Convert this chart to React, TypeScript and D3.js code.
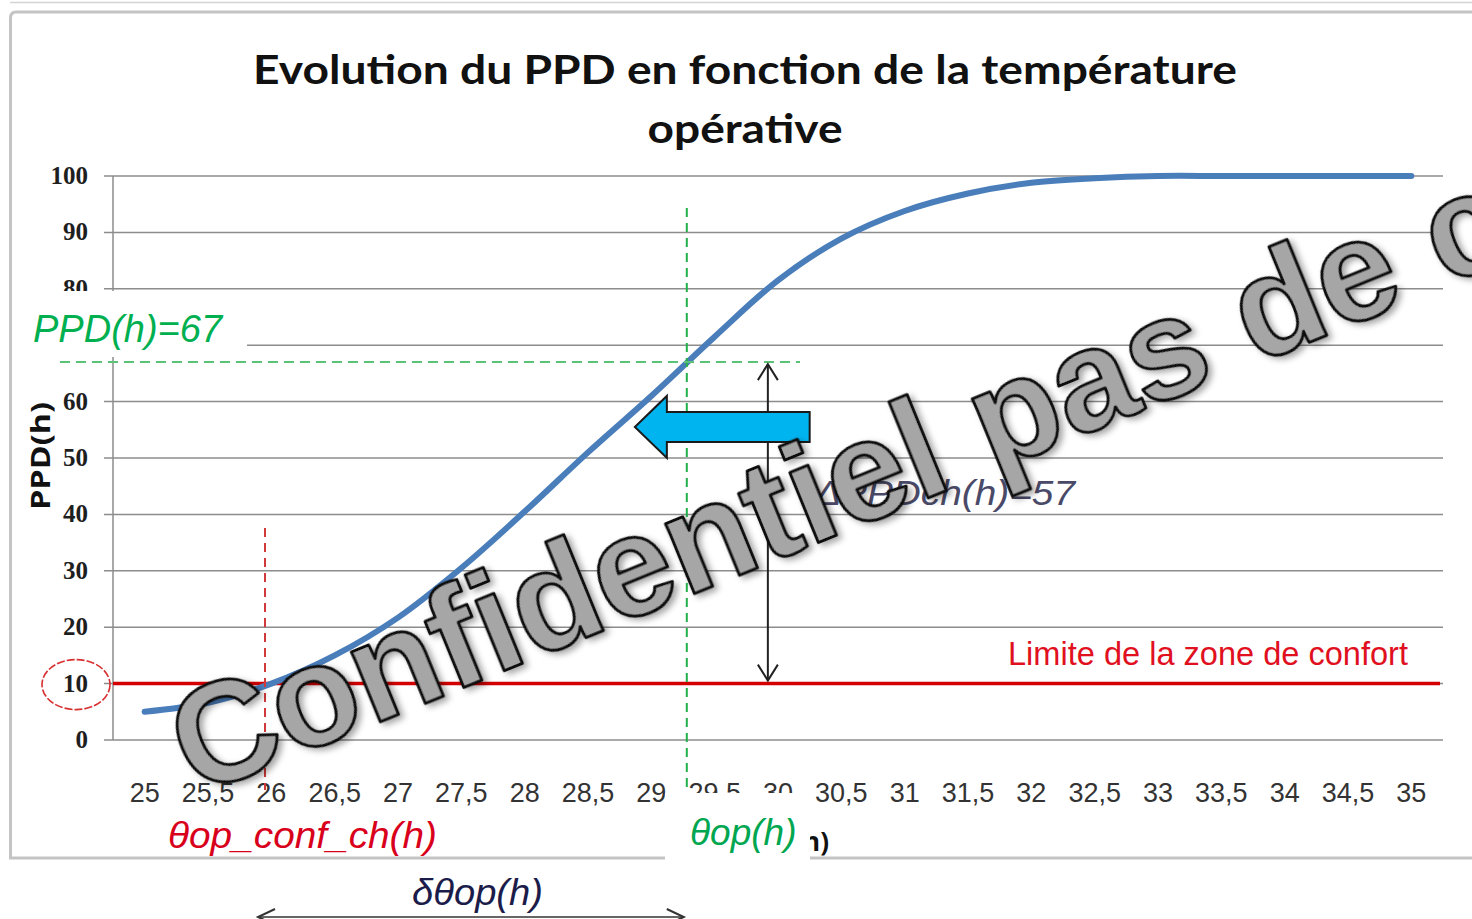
import React from 'react';
import * as d3 from 'd3';

// x categories (température opérative) and PPD values
const temps = ['25', '25,5', '26', '26,5', '27', '27,5', '28', '28,5', '29', '29,5', '30',
  '30,5', '31', '31,5', '32', '32,5', '33', '33,5', '34', '34,5', '35'];
const ppd = [5, 6.6, 10, 15, 21.7, 30.5, 40.5, 51, 61, 71.5, 81.5, 88.9, 93.8, 96.9, 98.8, 99.6, 100, 100, 100, 100, 100];
const yTicks = [0, 10, 20, 30, 40, 50, 60, 70, 80, 90, 100];

// annotations
const comfortLimit = 10;
const ppdH = 67;
const thetaOp = 29.28;
const thetaConf = 25.95;
const deltaArrowTemp = 29.92;
const blueArrow = { tip: 28.87, tail: 30.25, ppd: 55.5 };

const W = 1472;
const H = 919;
const plot = { left: 113, right: 1443, top: 176, bottom: 740 };

const sans = '"Liberation Sans", Arial, sans-serif';

const App = () => {
  const x = d3.scaleBand().domain(temps).range([plot.left, plot.right]).padding(0);
  const xc = (t: string) => (x(t) as number) + x.bandwidth() / 2;
  const tScale = d3.scaleLinear().domain([25, 35]).range([xc(temps[0]), xc(temps[temps.length - 1])]);
  const y = d3.scaleLinear().domain([0, 100]).range([plot.bottom, plot.top]);

  const line = d3.line<number>()
    .x((d, i) => xc(temps[i]))
    .y(d => y(d))
    .curve(d3.curveCatmullRom.alpha(0.5));

  const opX = tScale(thetaOp);
  const confX = tScale(thetaConf);
  const arrX = tScale(deltaArrowTemp);
  const yH = y(ppdH);
  const yLim = y(comfortLimit);

  const tipX = tScale(blueArrow.tip);
  const tailX = tScale(blueArrow.tail);
  const headX = tipX + 32;
  const cy = y(blueArrow.ppd);
  const bluePts = [
    [tipX, cy], [headX, cy - 31], [headX, cy - 15], [tailX, cy - 15],
    [tailX, cy + 15], [headX, cy + 15], [headX, cy + 31],
  ].map(p => p.join(',')).join(' ');

  const botY = 917;
  const bx1 = confX - 7;
  const bx2 = opX - 3;

  return (
    <svg width={W} height={H} style={{ position: 'absolute', left: 0, top: 0, background: '#fff' }}>
      <defs>
        <filter id="shadow" x="-10%" y="-10%" width="130%" height="130%">
          <feDropShadow dx="3" dy="4" stdDeviation="3" floodColor="#000" floodOpacity="0.35" />
        </filter>
      </defs>
      <rect width={W} height={H} fill="#fff" />

      {/* frame */}
      <line x1={10} x2={W} y1={2.5} y2={2.5} stroke="#d4d4d4" strokeWidth={1.5} />
      <path d={`M${W},12 H16 Q10.5,12 10.5,18 V858 H${W}`} fill="none" stroke="#c4c4c4" strokeWidth={3} />

      {/* title */}
      <text x={745} y={84} textAnchor="middle" fontFamily="Lato, 'Open Sans', sans-serif" fontWeight={700}
        fontSize={40} fill="#111" textLength={984} lengthAdjust="spacingAndGlyphs">
        Evolution du PPD en fonction de la température
      </text>
      <text x={745} y={143} textAnchor="middle" fontFamily="Lato, 'Open Sans', sans-serif" fontWeight={700}
        fontSize={40} fill="#111" textLength={195} lengthAdjust="spacingAndGlyphs">
        opérative
      </text>

      {/* grid + y axis */}
      {yTicks.map(t => (
        <g key={t}>
          <line x1={104} x2={plot.right} y1={y(t)} y2={y(t)} stroke="#8c8c8c" strokeWidth={1.5} />
          <text x={88} y={y(t) + 8} textAnchor="end" fontFamily='"Liberation Serif", "Times New Roman", serif'
            fontWeight={700} fontSize={25} fill="#1e1e1e">{t}</text>
        </g>
      ))}
      <line x1={plot.left} x2={plot.left} y1={plot.top} y2={plot.bottom} stroke="#8c8c8c" strokeWidth={1.5} />

      {/* x labels */}
      {temps.map(t => (
        <text key={t} x={xc(t)} y={802} textAnchor="middle" fontFamily={sans} fontSize={27} fill="#333">{t}</text>
      ))}

      <text transform="translate(50,456) rotate(-90)" textAnchor="middle" fontFamily="'Open Sans', sans-serif"
        fontWeight={700} fontSize={27} fill="#111" textLength={108} lengthAdjust="spacingAndGlyphs">PPD(h)</text>

      {/* comfort limit */}
      <line x1={plot.left} x2={1440} y1={yLim} y2={yLim} stroke="#d40000" strokeWidth={3.5} />
      <text x={1008} y={665} fontFamily={sans} fontSize={33} fill="#e0101e" textLength={400}
        lengthAdjust="spacingAndGlyphs">Limite de la zone de confort</text>
      <ellipse cx={76} cy={yLim + 1} rx={34} ry={25} fill="none" stroke="#d83030" strokeWidth={1.6} strokeDasharray="8 2" />

      {/* PPD curve */}
      <path d={line(ppd) as string} fill="none" stroke="#4a7ebb" strokeWidth={6} strokeLinecap="round" />

      {/* dashed guides */}
      <line x1={confX} x2={confX} y1={528} y2={790} stroke="#d03a3a" strokeWidth={2} strokeDasharray="9 6" />
      <line x1={opX} x2={opX} y1={208} y2={805} stroke="#22b04a" strokeWidth={2} strokeDasharray="9 6" />
      <line x1={60} x2={800} y1={yH} y2={yH} stroke="#5cc278" strokeWidth={2} strokeDasharray="10 6" />

      {/* vertical double arrow */}
      <line x1={arrX} x2={arrX} y1={yH + 2} y2={yLim - 3} stroke="#222" strokeWidth={2} />
      <polyline points={`${arrX - 10},${yH + 18} ${arrX},${yH + 2} ${arrX + 10},${yH + 18}`} fill="none" stroke="#222" strokeWidth={2} />
      <polyline points={`${arrX - 10},${yLim - 19} ${arrX},${yLim - 3} ${arrX + 10},${yLim - 19}`} fill="none" stroke="#222" strokeWidth={2} />

      {/* blue arrow */}
      <polygon points={bluePts} fill="#00b4f0" stroke="#1a1a1a" strokeWidth={2} />

      <text x={1075} y={505} textAnchor="end" fontFamily={sans} fontStyle="italic" fontSize={35} fill="#4a4a68"
        textLength={260} lengthAdjust="spacingAndGlyphs">ΔPPDch(h)=57</text>

      {/* box over the y axis with PPD(h)=67 */}
      <rect x={12} y={291} width={235} height={66} fill="#fff" />
      <text x={33} y={342} fontFamily={sans} fontStyle="italic" fontSize={38} fill="#00b050">PPD(h)={ppdH}</text>

      {/* box over the x axis title */}
      <text x={829} y={851} textAnchor="end" fontFamily="'Open Sans', sans-serif" fontWeight={700} fontSize={26} fill="#111">(h)</text>
      <rect x={665} y={793} width={145} height={80} fill="#fff" />
      <text x={690} y={845} fontFamily={sans} fontStyle="italic" fontSize={37} fill="#00a650">θop(h)</text>

      <text x={168} y={848} fontFamily={sans} fontStyle="italic" fontSize={37} fill="#d9001b"
        textLength={269} lengthAdjust="spacingAndGlyphs">θop_conf_ch(h)</text>

      {/* bottom delta */}
      <text x={412} y={905} fontFamily={sans} fontStyle="italic" fontSize={37} fill="#1c1c4a"
        textLength={131} lengthAdjust="spacingAndGlyphs">δθop(h)</text>
      <line x1={bx1} x2={bx2} y1={botY} y2={botY} stroke="#333" strokeWidth={1.5} />
      <polyline points={`${bx1 + 17},${botY - 8} ${bx1},${botY} ${bx1 + 17},${botY + 8}`} fill="none" stroke="#333" strokeWidth={2} />
      <polyline points={`${bx2 - 17},${botY - 8} ${bx2},${botY} ${bx2 - 17},${botY + 8}`} fill="none" stroke="#333" strokeWidth={2} />

      {/* watermark */}
      <text transform="translate(196,797) rotate(-22.2)" fontFamily={sans} fontWeight={700} fontSize={142}
        fill="#a6a6a6" stroke="#111" strokeWidth={3} strokeLinejoin="round" filter="url(#shadow)">
        Confidentiel pas de copie
      </text>
    </svg>
  );
};

export default App;
